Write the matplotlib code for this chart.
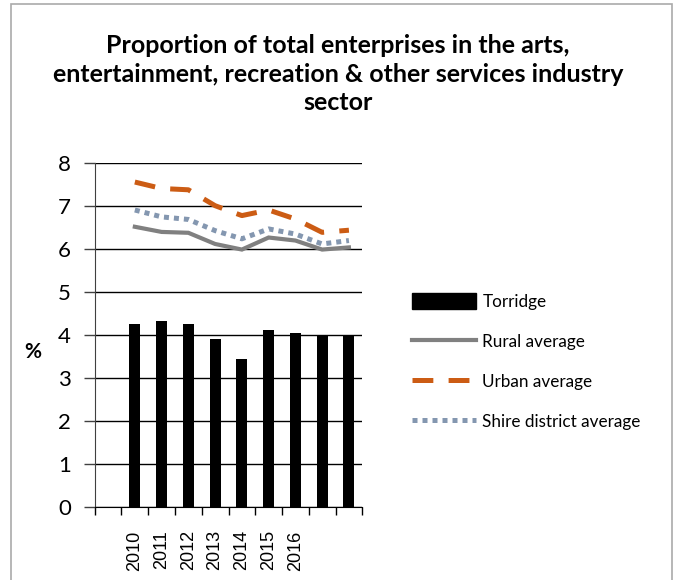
import matplotlib
matplotlib.use("Agg")
import matplotlib.pyplot as plt
from matplotlib.patches import Rectangle
from matplotlib.lines import Line2D
from matplotlib.patches import Patch

categories = ["", "2010", "2011", "2012", "2013", "2014", "2015", "2016", "", ""]
torridge = [None, 4.26, 4.33, 4.26, 3.91, 3.43, 4.12, 4.05, 4.00, 4.00]
rural = [None, 6.51, 6.39, 6.37, 6.11, 5.98, 6.26, 6.19, 5.98, 6.03]
urban = [None, 7.55, 7.40, 7.37, 7.00, 6.77, 6.90, 6.69, 6.38, 6.43]
shire = [None, 6.90, 6.74, 6.68, 6.42, 6.23, 6.46, 6.34, 6.11, 6.19]

W, H = 674, 580
fig = plt.figure(figsize=(W / 100, H / 100), dpi=100)
fig.patches.append(Rectangle((11 / W, -0.05), (672 - 11) / W, 1.05 - 4 / H,
                             transform=fig.transFigure, fill=False,
                             edgecolor="#aaaaaa", linewidth=1.2))

left, right, top, bottom = 94.7, 362.3, 162.7, 506.7
ax = fig.add_axes([left / W, 1 - bottom / H, (right - left) / W, (bottom - top) / H])

xs = list(range(len(categories)))
bx = [x for x, v in zip(xs, torridge) if v is not None]
bv = [v for v in torridge if v is not None]
ax.bar(bx, bv, width=0.41, color="black", zorder=3)

def pts(vals):
    return [x for x, v in zip(xs, vals) if v is not None], [v for v in vals if v is not None]

rx, rv = pts(rural)
ax.plot(rx, rv, color="#808080", lw=3.0, solid_joinstyle="miter", zorder=4)
ux, uv = pts(urban)
lw_u = 3.6
ax.plot(ux, uv, color="#CC5C14", lw=lw_u, linestyle=(0, (15 / lw_u, 11 / lw_u)),
        dash_capstyle="butt", zorder=5)
sx, sv = pts(shire)
lw_s = 3.6
ax.plot(sx, sv, color="#8497B0", lw=lw_s, linestyle=(0, (1, 1)),
        dash_capstyle="butt", zorder=4)

ax.set_xlim(-0.5, len(categories) - 0.5)
ax.set_ylim(0, 8)
ax.set_yticks(range(0, 9))
ax.grid(axis="y", color="black", lw=1.0, zorder=0)
for s in ["top", "right"]:
    ax.spines[s].set_visible(False)
ax.spines["left"].set_color("#404040")
ax.spines["bottom"].set_color("black")
ax.tick_params(axis="y", length=8, width=1, direction="out", color="#404040",
               labelsize=16, pad=9)
ax.set_yticklabels([str(i) for i in range(9)], family="Lato")

ax.set_xticks([x - 0.5 for x in xs] + [len(categories) - 0.5])
ax.set_xticklabels([])
ax.tick_params(axis="x", which="major", length=6, width=1, direction="out")
ax.set_xticks(xs, minor=True)
ax.set_xticklabels(categories, minor=True, rotation=90, fontsize=13,
                   family="Liberation Sans")
ax.tick_params(axis="x", which="minor", length=0, pad=17)

fig.text(33 / W, 1 - 352 / H, "%", fontsize=15, fontweight="bold", family="Lato",
         ha="center", va="center")

fig.text(338 / W, 1 - 74 / H,
         "Proportion of total enterprises in the arts,\n"
         "entertainment, recreation & other services industry\nsector",
         ha="center", va="center", fontsize=18, fontweight="bold", family="Lato",
         linespacing=1.3)

handles = [
    Patch(facecolor="black", edgecolor="black"),
    Line2D([], [], color="#808080", lw=3.0),
    Line2D([], [], color="#CC5C14", lw=lw_u, linestyle=(0, (15 / lw_u, 11 / lw_u)),
           dash_capstyle="butt"),
    Line2D([], [], color="#8497B0", lw=lw_s, linestyle=(0, (1, 1)), dash_capstyle="butt"),
]
labels = ["Torridge", "Rural average", "Urban average", "Shire district average"]
fig.legend(handles, labels, loc="upper left", bbox_to_anchor=(397 / W, 1 - 278 / H),
           frameon=False, prop={"family": "Lato", "size": 12.3},
           handlelength=3.7, handleheight=1.0, labelspacing=1.38, handletextpad=0.4)

fig.savefig("out.png", dpi=100)
